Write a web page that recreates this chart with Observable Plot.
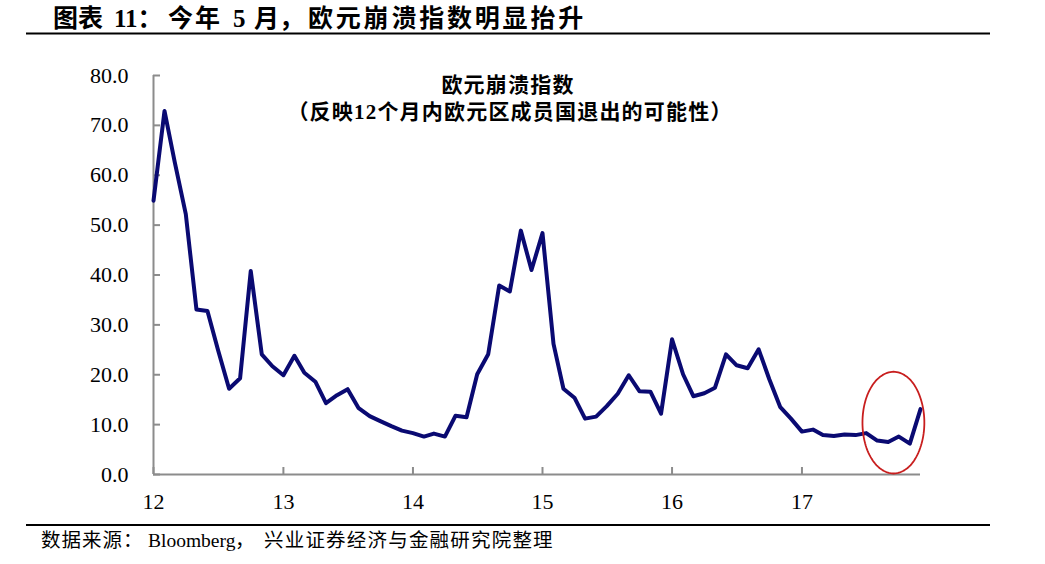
<!DOCTYPE html>
<html>
<head>
<meta charset="utf-8">
<script src="https://cdn.jsdelivr.net/npm/d3@7"></script>
<script src="https://cdn.jsdelivr.net/npm/@observablehq/plot@0.6"></script>
<style>
html, body { margin: 0; padding: 0; background: #fff; }
#wrap { position: relative; width: 1045px; height: 564px; overflow: hidden; background: #fff; }
#chart { position: absolute; left: 0; top: 0; }
#decor { position: absolute; left: 0; top: 0; pointer-events: none; }
.cjk { font-family: "Liberation Serif", "Noto Sans CJK SC", serif; }
</style>
</head>
<body>
<div id="wrap">
  <div id="chart"></div>
  <svg id="decor" width="1045" height="564" xmlns="http://www.w3.org/2000/svg">
    <line x1="26" y1="33.5" x2="990" y2="33.5" stroke="#000" stroke-width="2"></line>
    <line x1="26" y1="525" x2="990" y2="525" stroke="#000" stroke-width="2.2"></line>
    <text class="cjk" y="26.7" font-size="25" font-weight="bold" fill="#000">
      <tspan x="53">图表</tspan><tspan x="114">11：</tspan><tspan x="168" letter-spacing="2">今年</tspan><tspan x="233">5</tspan><tspan x="254">月，</tspan><tspan x="308" letter-spacing="2.8">欧元崩溃指数明显抬升</tspan>
    </text>
    <text class="cjk" x="508" y="92" font-size="21" font-weight="bold" text-anchor="middle" letter-spacing="1.2" fill="#000">欧元崩溃指数</text>
    <text class="cjk" x="510" y="118.5" font-size="21" font-weight="bold" text-anchor="middle" letter-spacing="1.2" fill="#000">（反映12个月内欧元区成员国退出的可能性）</text>
    <text class="cjk" y="546.5" font-size="19.5" fill="#000">
      <tspan x="41" letter-spacing="1">数据来源：</tspan><tspan x="148">Bloomberg</tspan><tspan x="235">，</tspan><tspan x="264" letter-spacing="1.2">兴业证券经济与金融研究院整理</tspan>
    </text>
  </svg>
</div>
<script>
// ---- data (monthly, Jan 2012 – Dec 2017) ----
const startYear = 2012;
const values = [
  54.9, 72.9, 62.6, 52.2, 33.1, 32.8, 24.9, 17.2, 19.3, 40.8, 24.1, 21.7,
  19.9, 23.8, 20.4, 18.6, 14.3, 15.9, 17.1, 13.3, 11.7, 10.7, 9.7, 8.8,
  8.3, 7.6, 8.2, 7.6, 11.8, 11.5, 20.1, 24.1, 37.9, 36.7, 48.9, 41.0,
  48.4, 26.2, 17.2, 15.4, 11.2, 11.6, 13.7, 16.2, 19.9, 16.7, 16.6, 12.2,
  27.1, 20.1, 15.7, 16.3, 17.4, 24.1, 21.9, 21.3, 25.1, 19.1, 13.5, 11.2,
  8.6, 9.0, 7.9, 7.7, 8.0, 7.9, 8.3, 6.8, 6.5, 7.6, 6.2, 13.1
];
const yearLabels = ["12", "13", "14", "15", "16", "17"];
const yTicks = [0, 10, 20, 30, 40, 50, 60, 70, 80];
// highlighted region (red ellipse), in data units: month index & index value
const highlightMonth = 68.5;
const highlightValue = 10.4;
const highlightHalfMonths = 2.85;
const highlightHalfValue = 10.2;

// ---- build ----
const monthDate = (m) => {
  const whole = Math.floor(m), frac = m - whole;
  const a = Date.UTC(startYear, whole, 1), b = Date.UTC(startYear, whole + 1, 1);
  return new Date(a + (b - a) * frac);
};
const data = values.map((v, i) => ({ date: monthDate(i), value: v }));
const xTicks = yearLabels.map(l => new Date(Date.UTC(2000 + (+l), 0, 1)));
const ellipse = d3.range(0, 361, 3).map(a => {
  const t = a * Math.PI / 180;
  return {
    date: monthDate(highlightMonth + highlightHalfMonths * Math.cos(t)),
    value: highlightValue + highlightHalfValue * Math.sin(t)
  };
});

const axisGrey = "#8c8c8c";
const chart = Plot.plot({
  width: 1045,
  height: 564,
  marginLeft: 153,
  marginRight: 125,
  marginTop: 75,
  marginBottom: 90,
  style: { fontFamily: "Liberation Serif, serif", fontSize: "22px", color: "#000", background: "transparent" },
  x: { type: "utc", domain: [data[0].date, data[data.length - 1].date], label: null },
  y: { domain: [0, 80], label: null },
  marks: [
    Plot.ruleY([0], { stroke: axisGrey, strokeWidth: 2 }),
    Plot.ruleX([data[0].date], { y1: 0, y2: 80, stroke: axisGrey, strokeWidth: 2 }),
    Plot.axisY({ ticks: yTicks, tickSize: 7, dx: 7, tickFormat: () => "", stroke: axisGrey, strokeWidth: 2, label: null }),
    Plot.axisY({ ticks: yTicks, tickSize: 0, tickPadding: 25, tickFormat: d => d.toFixed(1), fill: "#000", label: null }),
    Plot.axisX({ ticks: xTicks, tickSize: 7, dy: -7, tickFormat: () => "", stroke: axisGrey, strokeWidth: 2, label: null }),
    Plot.axisX({ ticks: xTicks, tickSize: 0, tickPadding: 18.5, tickFormat: d3.utcFormat("%y"), fill: "#000", label: null }),
    Plot.line(data, { x: "date", y: "value", stroke: "#0a0a72", strokeWidth: 4 }),
    Plot.line(ellipse, { x: "date", y: "value", stroke: "#c81e1e", strokeWidth: 1.8 })
  ]
});
document.getElementById("chart").appendChild(chart);
</script>
</body>
</html>
